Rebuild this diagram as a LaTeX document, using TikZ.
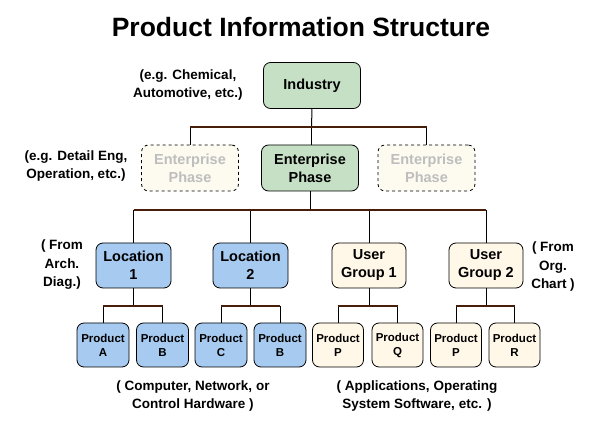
\documentclass[tikz,border=0pt]{standalone}
\usepackage{fontspec}
\setmainfont{Liberation Sans}
\begin{document}
\begin{tikzpicture}[x=1pt,y=-1pt,
  box/.style={draw=black, line width=0.8pt, rounded corners=7pt, align=center, font=\bfseries\fontsize{14.5}{18}\selectfont, inner sep=0pt},
  greenbox/.style={box, fill=boxgreen, minimum width=97pt, minimum height=46pt},
  ghostbox/.style={box, fill=ghostfill, draw=black, dashed, text=ghosttext, minimum width=97pt, minimum height=46pt},
  bluebox/.style={box, fill=boxblue, minimum width=75pt, minimum height=45pt},
  creambox/.style={box, fill=boxcream, minimum width=74pt, minimum height=45pt},
  prodblue/.style={box, fill=boxblue, minimum width=52pt, minimum height=44pt, font=\bfseries\fontsize{11.5}{14}\selectfont},
  prodcream/.style={box, fill=boxcream, minimum width=51pt, minimum height=44pt, font=\bfseries\fontsize{11.5}{14}\selectfont},
  note/.style={align=center, font=\bfseries\fontsize{13.5}{18.5}\selectfont, inner sep=0pt},
  conn/.style={draw=black, line width=1pt},
  bar/.style={draw=barbrown, line width=2pt}
]
\definecolor{boxgreen}{RGB}{198,224,198}
\definecolor{boxblue}{RGB}{166,202,240}
\definecolor{boxcream}{RGB}{255,248,232}
\definecolor{ghostfill}{RGB}{253,250,240}
\definecolor{ghosttext}{RGB}{190,190,190}
\definecolor{barbrown}{RGB}{70,30,10}
\useasboundingbox[fill=white] (0,0) rectangle (598,430);

\node[font=\bfseries\fontsize{26.5}{30}\selectfont] (title) at (301,27) {Product Information Structure};

\node[greenbox] (ind) at (312,85.5) {Industry};
\node[note] (n1) at (188,85) {(e.g. Chemical,\\Automotive, etc.)};

\coordinate (b1L) at (190,127);
\coordinate (b1R) at (426.5,127);
\coordinate (b1C) at (311.5,127);

\node[ghostbox] (ephL) at (190,168) {Enterprise\\Phase};
\node[greenbox] (eph) at (310,168) {Enterprise\\Phase};
\node[ghostbox] (ephR) at (426.5,168) {Enterprise\\Phase};
\node[note] (n2) at (76,166) {(e.g. Detail Eng,\\Operation, etc.)};

\coordinate (b2C) at (310,210);
\coordinate (b2L) at (133.5,210);
\coordinate (b2R) at (486,210);

\node[bluebox] (loc1) at (133.5,265.5) {Location\\1};
\node[bluebox] (loc2) at (250.5,265.5) {Location\\2};
\node[creambox] (ug1) at (369,265.5) {User\\Group 1};
\node[creambox] (ug2) at (486,265.5) {User\\Group 2};
\node[note] (n3) at (62,265) {( From\\Arch.\\Diag.)};
\node[note] (n4) at (553,267) {( From\\Org.\\Chart )};

\node[prodblue] (pA) at (103,345) {Product\\A};
\node[prodblue] (pB) at (162.5,345) {Product\\B};
\node[prodblue] (pC) at (221,345) {Product\\C};
\node[prodblue] (pB2) at (280,345) {Product\\B};
\node[prodcream] (pP) at (338,345) {Product\\P};
\node[prodcream] (pQ) at (397.5,345) {Product\\Q};
\node[prodcream] (pP2) at (456,345) {Product\\P};
\node[prodcream] (pR) at (514.5,345) {Product\\R};

\node[note] (n5) at (193,396) {( Computer, Network, or\\Control Hardware )};
\node[note] (n6) at (417,396) {( Applications, Operating\\System Software, etc. )};

% level 1
\draw[conn] (ind.south) -- (b1C);
\draw[conn] (b1L) -- (ephL.north);
\draw[conn] (b1C) -- (eph.north -| b1C);
\draw[conn] (b1R) -- (ephR.north);
\draw[bar] (b1L) -- (b1R);

% level 2
\draw[conn] (eph.south) -- (b2C);
\draw[conn] (b2L) -- (loc1.north);
\draw[conn] (loc2.north |- b2C) -- (loc2.north);
\draw[conn] (ug1.north |- b2C) -- (ug1.north);
\draw[conn] (b2R) -- (ug2.north);
\draw[bar] (b2L) -- (b2R);

% level 3
\foreach \p/\a/\b in {loc1/pA/pB, loc2/pC/pB2, ug1/pP/pQ, ug2/pP2/pR}{
  \coordinate (\p-l) at (\a.north |- 0,306);
  \coordinate (\p-r) at (\b.north |- 0,306);
  \draw[conn] (\p.south) -- (\p.south |- 0,306);
  \draw[conn] (\p-l) -- (\a.north);
  \draw[conn] (\p-r) -- (\b.north);
  \draw[bar] (\p-l) -- (\p-r);
}
\end{tikzpicture}
\end{document}
